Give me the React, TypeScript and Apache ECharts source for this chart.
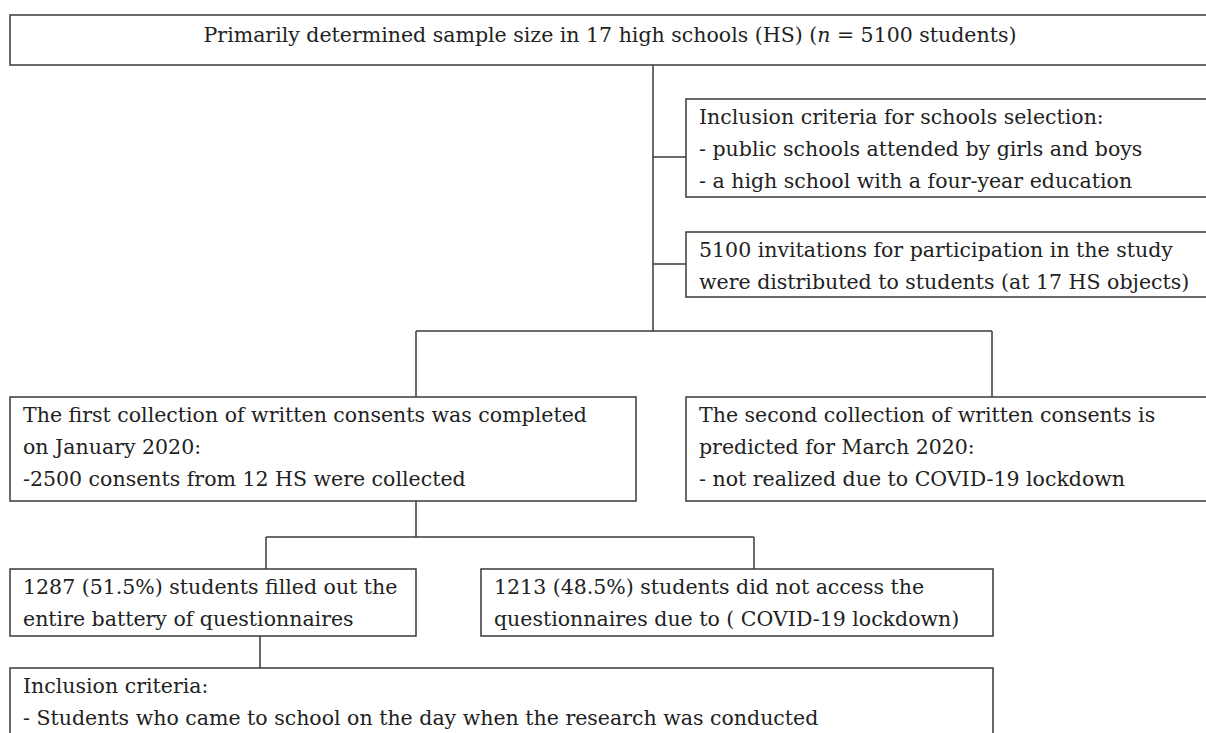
import React, { useEffect, useRef } from "react";
import * as echarts from "echarts";

// Box texts (each entry = lines of a box)
const topBoxText = ["Primarily determined sample size in 17 high schools (HS) ({i|n} = 5100 students)"];
const schoolCriteriaText = [
  "Inclusion criteria for schools selection:",
  "- public schools attended by girls and boys",
  "- a high school with a four-year education",
];
const invitationsText = [
  "5100 invitations for participation in the study",
  "were distributed to students (at 17 HS objects)",
];
const firstCollectionText = [
  "The first collection of written consents was completed",
  "on January 2020:",
  "-2500 consents from 12 HS were collected",
];
const secondCollectionText = [
  "The second collection of written consents is",
  "predicted for March 2020:",
  "- not realized due to COVID-19 lockdown",
];
const filledText = [
  "1287 (51.5%) students filled out the",
  "entire battery of questionnaires",
];
const notAccessText = [
  "1213 (48.5%) students did not access the",
  "questionnaires due to ( COVID-19 lockdown)",
];
const studentCriteriaText = [
  "Inclusion criteria:",
  "- Students who came to school on the day when the research was conducted",
];

// Layout (x, y, w, h) for each box
const boxes = [
  { lines: topBoxText, x: 10, y: 15, w: 1210, h: 50, center: true },
  { lines: schoolCriteriaText, x: 686, y: 99, w: 540, h: 98 },
  { lines: invitationsText, x: 686, y: 232, w: 540, h: 65 },
  { lines: firstCollectionText, x: 10, y: 397, w: 626, h: 104 },
  { lines: secondCollectionText, x: 686, y: 397, w: 540, h: 104 },
  { lines: filledText, x: 10, y: 569, w: 406, h: 67 },
  { lines: notAccessText, x: 481, y: 569, w: 512, h: 67 },
  { lines: studentCriteriaText, x: 10, y: 668, w: 983, h: 100 },
];

// Connectors [x1, y1, x2, y2]
const connectors = [
  [653, 65, 653, 331],
  [653, 157, 686, 157],
  [653, 264, 686, 264],
  [416, 331, 992, 331],
  [416, 331, 416, 397],
  [992, 331, 992, 397],
  [416, 501, 416, 537],
  [266, 537, 754, 537],
  [266, 537, 266, 569],
  [754, 537, 754, 569],
  [260, 636, 260, 668],
];

const FONT = "'DejaVu Serif', 'Liberation Serif', serif";
const FONT_SIZE = 20.5;
const LINE_H = 32;
const STROKE = "#3a3a3a";
const TEXT_COLOR = "#222";

export default function App() {
  const ref = useRef<HTMLDivElement>(null);
  useEffect(() => {
    if (!ref.current) return;
    const chart = echarts.init(ref.current, null, { renderer: "svg" });
    const elements: any[] = [];
    boxes.forEach((b) => {
      elements.push({
        type: "rect",
        shape: { x: b.x, y: b.y, width: b.w, height: b.h },
        style: { fill: "#fff", stroke: STROKE, lineWidth: 1.5 },
        silent: true,
      });
      elements.push({
        type: "text",
        x: b.center ? 610 : b.x + 13,
        y: b.center ? b.y + 20 : b.y + 2,
        style: {
          text: b.lines.join("\n"),
          fontFamily: FONT,
          fontSize: FONT_SIZE,
          lineHeight: LINE_H,
          fill: TEXT_COLOR,
          align: b.center ? "center" : "left",
          verticalAlign: b.center ? "middle" : "top",
          rich: {
            i: { fontStyle: "italic", fontFamily: FONT, fontSize: FONT_SIZE, fill: TEXT_COLOR },
          },
        },
        silent: true,
      });
    });
    connectors.forEach((c) => {
      elements.push({
        type: "line",
        shape: { x1: c[0], y1: c[1], x2: c[2], y2: c[3] },
        style: { stroke: STROKE, lineWidth: 1.5 },
        silent: true,
      });
    });
    chart.setOption({
      animation: false,
      backgroundColor: "#fff",
      graphic: { elements },
    });
    return () => chart.dispose();
  }, []);
  return (
    <div
      ref={ref}
      style={{ position: "fixed", left: 0, top: 0, width: 1206, height: 733, background: "#fff" }}
    />
  );
}
